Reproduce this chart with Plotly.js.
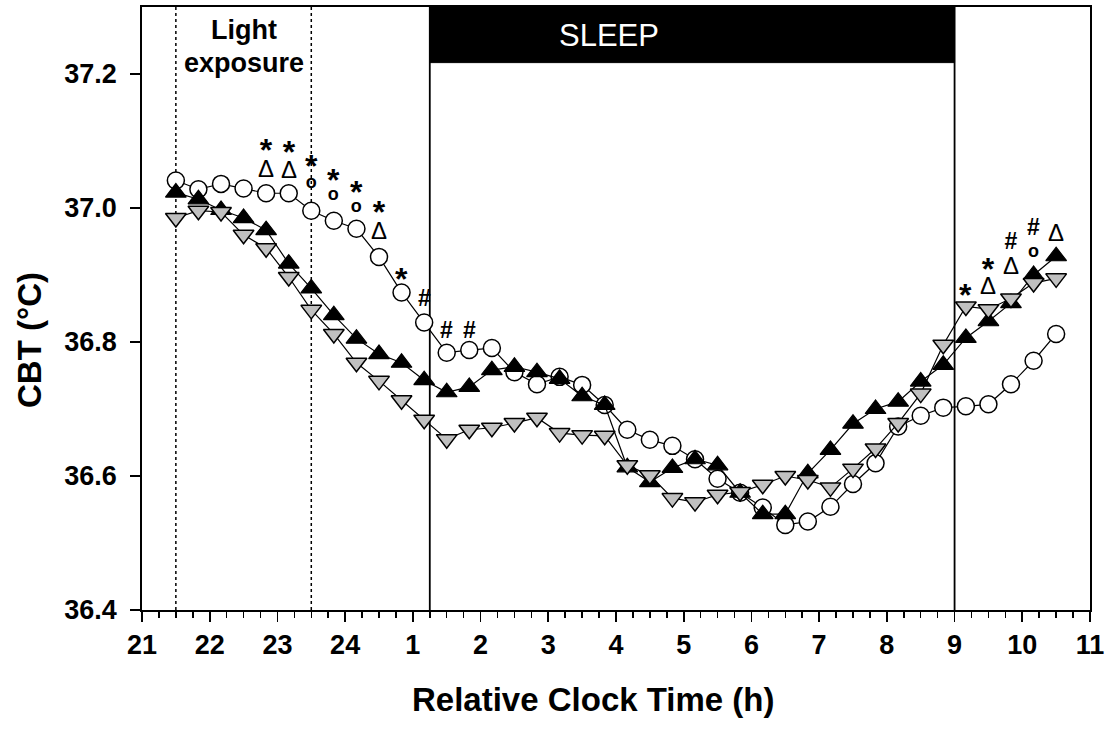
<!DOCTYPE html>
<html>
<head>
<meta charset="utf-8">
<script src="https://cdn.plot.ly/plotly-3.0.1.min.js"></script>
<style>html,body{margin:0;padding:0;background:#fff;}#chart{width:1106px;height:729px;}</style>
</head>
<body>
<div id="chart"></div>
<script>
// Relative clock time (h), 21 = 21:00 ... 35 = 11:00 next day, every 20 min
const timeH = [21.5,21.833,22.167,22.5,22.833,23.167,23.5,23.833,24.167,24.5,
  24.833,25.167,25.5,25.833,26.167,26.5,26.833,27.167,27.5,27.833,
  28.167,28.5,28.833,29.167,29.5,29.833,30.167,30.5,30.833,31.167,
  31.5,31.833,32.167,32.5,32.833,33.167,33.5,33.833,34.167,34.5];

const openCircle = [37.041,37.028,37.036,37.029,37.022,37.022,36.996,36.981,36.969,36.927,
  36.874,36.829,36.784,36.788,36.791,36.755,36.737,36.748,36.736,36.706,
  36.669,36.654,36.645,36.625,36.596,36.575,36.553,36.527,36.532,36.554,
  36.588,36.619,36.674,36.690,36.702,36.704,36.707,36.737,36.772,36.812];

const blackUp = [37.023,37.013,36.997,36.985,36.967,36.917,36.880,36.840,36.805,36.782,
  36.769,36.743,36.725,36.733,36.758,36.763,36.755,36.745,36.719,36.706,
  36.613,36.591,36.612,36.625,36.616,36.575,36.543,36.543,36.604,36.639,
  36.678,36.700,36.711,36.741,36.766,36.806,36.831,36.858,36.900,36.928];

const grayDown = [36.985,36.996,36.994,36.960,36.940,36.897,36.848,36.812,36.769,36.742,
  36.713,36.684,36.655,36.669,36.672,36.679,36.687,36.664,36.661,36.660,
  36.616,36.601,36.567,36.561,36.572,36.576,36.587,36.600,36.594,36.583,
  36.611,36.641,36.679,36.723,36.796,36.853,36.849,36.865,36.888,36.895];

const xTickVals = [21,22,23,24,25,26,27,28,29,30,31,32,33,34,35];
const xTickText = ["21","22","23","24","1","2","3","4","5","6","7","8","9","10","11"];
const yTickVals = [36.4,36.6,36.8,37.0,37.2];

// significance symbols, one column per time point: upper and lower symbol with their centres
const sigX      = [22.833,23.167,23.5,23.833,24.167,24.5,24.833,25.167,25.5,25.833,33.167,33.5,33.833,34.167,34.5];
const sigTop    = ["*","*","*","*","*","*","*","#","#","#","*","*","#","#","Δ"];
const sigTopY   = [37.097,37.094,37.073,37.052,37.034,37.004,36.904,36.866,36.818,36.818,36.881,36.919,36.952,36.972,36.964];
const sigBottom = ["Δ","Δ","o","o","o","Δ","","","","","","Δ","Δ","o",""];
const sigBottomY= [37.060,37.058,37.037,37.019,37.001,36.967,null,null,null,null,null,36.885,36.915,36.934,null];

const lightStart = 21.5, lightEnd = 23.5;
const sleepStart = 25.25, sleepEnd = 33;

const FONT = "Liberation Sans, Arial, sans-serif";
const Y0 = 36.4, Y1 = 37.3, PLOT_T = 7, PLOT_B = 119, H = 729;
const pxPerUnit = (H - PLOT_T - PLOT_B) / (Y1 - Y0);

const symSize = {'*': 32, '#': 23, 'Δ': 24, 'o': 18};
const symBold = {'*': true, '#': true, 'Δ': false, 'o': true};
const symCentre = {'*': 0.56, '#': 0.35, 'Δ': 0.36, 'o': 0.26};
const ASC = 0.905, DESC = 0.212;
function span(s) {
  return '<span style="font-size:' + symSize[s] + 'px;font-weight:' + (symBold[s] ? 'bold' : 'normal') + '">' + s + '</span>';
}

const annotations = [];
sigX.forEach((x, i) => {
  const T = sigTop[i], B = sigBottom[i];
  const sT = symSize[T], cT = symCentre[T] * sT;
  let text, base, boxc;
  if (B) {
    const sB = symSize[B], cB = symCentre[B] * sB;
    const gapPx = (sigTopY[i] - sigBottomY[i]) * pxPerUnit;
    const baseGap = gapPx - cT + cB;
    base = baseGap / 1.3;
    const top = -ASC * Math.max(sT, base);
    const bottom = baseGap + DESC * Math.max(sB, base);
    boxc = (top + bottom) / 2;
    text = span(T) + '<br>' + span(B);
  } else {
    base = 10;
    boxc = (-ASC * sT + DESC * sT) / 2;
    text = span(T);
  }
  annotations.push({x: x, y: sigTopY[i], xref: 'x', yref: 'y', text: text, showarrow: false,
    xanchor: 'center', yanchor: 'middle', borderpad: 0,
    font: {family: FONT, size: base, color: 'black'}, yshift: -(cT + boxc)});
});

annotations.push({x: (lightStart + lightEnd) / 2, y: 37.266, xref: 'x', yref: 'y',
  text: '<b>Light</b>', showarrow: false, borderpad: 0,
  font: {family: FONT, size: 27, color: 'black'}});
annotations.push({x: (lightStart + lightEnd) / 2, y: 37.216, xref: 'x', yref: 'y',
  text: '<b>exposure</b>', showarrow: false, borderpad: 0,
  font: {family: FONT, size: 27, color: 'black'}});
annotations.push({x: 27.9, y: 37.257, xref: 'x', yref: 'y', text: 'SLEEP', showarrow: false,
  font: {family: FONT, size: 31, color: 'white'}});
annotations.push({x: 0.476, y: -0.149, xref: 'paper', yref: 'paper', text: '<b>Relative Clock Time (h)</b>',
  showarrow: false, xanchor: 'center', yanchor: 'middle',
  font: {family: FONT, size: 33, color: 'black'}});
annotations.push({x: -0.118, y: 0.448, xref: 'paper', yref: 'paper', text: '<b>CBT (°C)</b>',
  showarrow: false, xanchor: 'center', yanchor: 'middle', textangle: -90,
  font: {family: FONT, size: 33, color: 'black'}});

const traces = [
  {x: timeH, y: openCircle, mode: 'lines+markers', type: 'scatter',
   line: {color: 'black', width: 1.2},
   marker: {symbol: 'circle', size: 17, color: 'white', line: {color: 'black', width: 1.5}}},
  {x: timeH, y: blackUp, mode: 'lines+markers', type: 'scatter',
   line: {color: 'black', width: 1.2},
   marker: {symbol: 'triangle-up', size: 18, color: 'black', line: {color: 'black', width: 1.2}}},
  {x: timeH, y: grayDown, mode: 'lines+markers', type: 'scatter',
   line: {color: 'black', width: 1.2},
   marker: {symbol: 'triangle-down', size: 18, color: '#c0c0c0', line: {color: 'black', width: 1.5}}}
];

const shapes = [
  {type: 'rect', xref: 'x', yref: 'y', x0: sleepStart, x1: sleepEnd, y0: 37.217, y1: 37.3,
   fillcolor: 'black', line: {color: 'black', width: 1}, layer: 'below'},
  {type: 'line', xref: 'x', yref: 'paper', x0: sleepStart, x1: sleepStart, y0: 0, y1: 1,
   line: {color: 'black', width: 1.8}, layer: 'below'},
  {type: 'line', xref: 'x', yref: 'paper', x0: sleepEnd, x1: sleepEnd, y0: 0, y1: 1,
   line: {color: 'black', width: 1.8}, layer: 'below'},
  {type: 'line', xref: 'x', yref: 'paper', x0: lightStart, x1: lightStart, y0: 0, y1: 1,
   line: {color: 'black', width: 1.5, dash: 'dot'}, layer: 'below'},
  {type: 'line', xref: 'x', yref: 'paper', x0: lightEnd, x1: lightEnd, y0: 0, y1: 1,
   line: {color: 'black', width: 1.5, dash: 'dot'}, layer: 'below'}
];

const layout = {
  width: 1106, height: 729,
  margin: {l: 142, r: 16, t: PLOT_T, b: PLOT_B},
  paper_bgcolor: 'white', plot_bgcolor: 'white',
  showlegend: false,
  font: {family: FONT, color: 'black'},
  xaxis: {
    range: [21, 35], tickmode: 'array', tickvals: xTickVals, ticktext: xTickText,
    showgrid: false, zeroline: false, showline: true, linecolor: 'black', linewidth: 1.8, mirror: true,
    ticks: 'outside', ticklen: 10, tickwidth: 1.8, tickcolor: 'black',
    tickfont: {family: FONT, size: 27, color: 'black', weight: 'bold'},
    ticklabelstandoff: 0,
    minor: {dtick: 0.25, tick0: 21, ticks: 'outside', ticklen: 6, tickwidth: 1.5, tickcolor: 'black', showgrid: false}
  },
  yaxis: {
    range: [Y0, Y1], tickmode: 'array', tickvals: yTickVals, tickformat: '.1f',
    showgrid: false, zeroline: false, showline: true, linecolor: 'black', linewidth: 1.8, mirror: true,
    ticks: 'outside', ticklen: 10, tickwidth: 1.8, tickcolor: 'black',
    tickfont: {family: FONT, size: 27, color: 'black', weight: 'bold'},
    ticklabelstandoff: 8
  },
  shapes: shapes,
  annotations: annotations
};

Plotly.newPlot('chart', traces, layout, {displayModeBar: false, staticPlot: true});
</script>
</body>
</html>
